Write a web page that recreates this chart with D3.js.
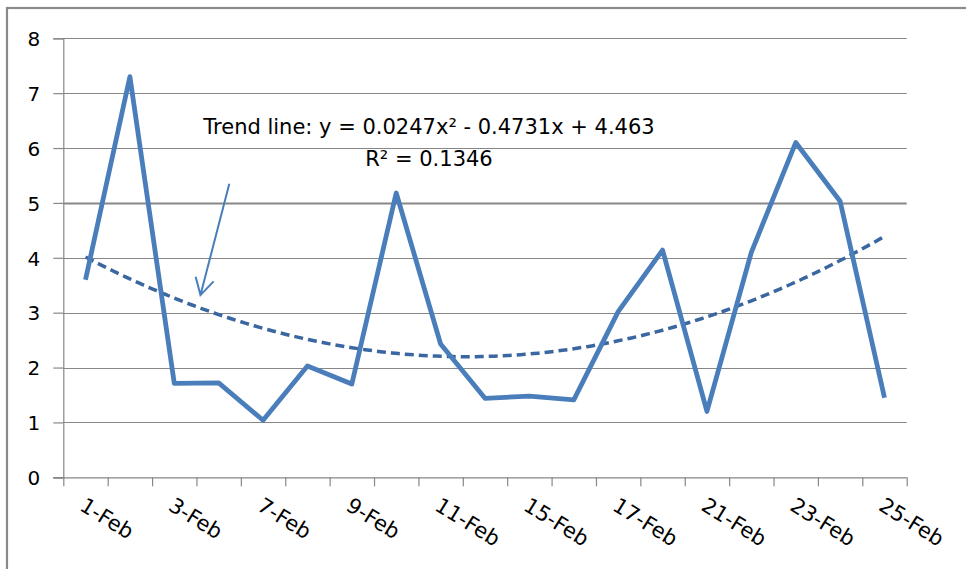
<!DOCTYPE html>
<html>
<head>
<meta charset="utf-8">
<script src="https://cdn.jsdelivr.net/npm/d3@7"></script>
<style>
  body { margin: 0; background: #fff; }
  text { font-family: "DejaVu Sans", Verdana, sans-serif; fill: #000; }
</style>
</head>
<body>
<div id="chart-area"></div>
<script>
// data
var dates = ["1-Feb", "2-Feb", "3-Feb", "4-Feb", "7-Feb", "8-Feb", "9-Feb", "10-Feb", "11-Feb", "14-Feb",
             "15-Feb", "16-Feb", "17-Feb", "18-Feb", "21-Feb", "22-Feb", "23-Feb", "24-Feb", "25-Feb"];
var values = [3.6, 7.3, 1.71, 1.72, 1.04, 2.03, 1.7, 5.18, 2.43, 1.44,
              1.48, 1.41, 3.02, 4.14, 1.2, 4.1, 6.1, 5.03, 1.45];
var yTicks = [0, 1, 2, 3, 4, 5, 6, 7, 8];
// trend line coefficients as printed on the chart
var trendA = 0.0247, trendB = -0.4731, trendC = 4.463;
var trendText = "Trend line: y = 0.0247x\u00B2 - 0.4731x + 4.463";
var r2Text = "R\u00B2 = 0.1346";

var W = 966, H = 569;
var margin = {left: 63.3, right: 59.3, top: 38.3, bottom: 91.7};

var svg = d3.select("#chart-area")
  .append("svg")
    .attr("width", W)
    .attr("height", H);

// outer frame (only top and left edges are in view)
svg.append("rect")
  .attr("x", 7).attr("y", 8)
  .attr("width", 1200).attr("height", 900)
  .attr("fill", "none")
  .attr("stroke", "#8a8a8a")
  .attr("stroke-width", 2.2);

// x as category index (1..n), band edges at half steps
var x = d3.scaleLinear()
  .domain([0.5, dates.length + 0.5])
  .range([margin.left, W - margin.right]);

var y = d3.scaleLinear()
  .domain([0, 8])
  .range([H - margin.bottom, margin.top]);

// horizontal gridlines
svg.append("g")
  .selectAll("line")
  .data(yTicks.slice(1))
  .enter().append("line")
    .attr("x1", margin.left)
    .attr("x2", W - margin.right)
    .attr("y1", function(d){ return Math.round(y(d)) + 0.5; })
    .attr("y2", function(d){ return Math.round(y(d)) + 0.5; })
    .attr("stroke", "#878787")
    .attr("stroke-width", function(d){ return d == 5 ? 2 : 1.2; });

// y axis
var yAxis = d3.axisLeft(y)
  .tickValues(yTicks)
  .tickSize(10)
  .tickPadding(13)
  .tickFormat(function(d){ return d; });
var gy = svg.append("g")
  .attr("transform", "translate(" + margin.left + ",0)")
  .call(yAxis);
gy.selectAll("line").attr("stroke", "#878787").attr("stroke-width", 1.2);
gy.select(".domain").attr("stroke", "#878787").attr("stroke-width", 1.2);
gy.selectAll("text").attr("font-size", "20px").attr("font-family", "'DejaVu Sans', sans-serif").attr("dy", "0.36em");

// x axis: ticks between categories
var edges = d3.range(0, dates.length + 1).map(function(i){ return i + 0.5; });
var xAxis = d3.axisBottom(x)
  .tickValues(edges)
  .tickSize(9)
  .tickFormat("");
var gx = svg.append("g")
  .attr("transform", "translate(0," + y(0) + ")")
  .call(xAxis);
gx.selectAll("line").attr("stroke", "#878787").attr("stroke-width", 1.2);
gx.select(".domain").attr("stroke", "#878787").attr("stroke-width", 1.2)
  .attr("d", "M" + (margin.left - 10) + ",0.5H" + (W - margin.right));

// category labels, every other one, rotated
svg.append("g")
  .selectAll("text")
  .data(dates)
  .enter().append("text")
    .filter(function(d, i){ return i % 2 == 0; })
    .attr("transform", function(d){
      var i = dates.indexOf(d);
      return "translate(" + (x(i + 1) + 1) + "," + (y(0) + 19) + ") rotate(32)";
    })
    .attr("dy", "0.72em")
    .attr("font-size", "21px")
    .text(function(d){ return d; });

// trend line (polynomial, order 2)
var trendPts = d3.range(1, dates.length + 0.001, 0.1).map(function(t){
  return [t, trendA * t * t + trendB * t + trendC];
});
svg.append("path")
  .datum(trendPts)
  .attr("fill", "none")
  .attr("stroke", "#3a679f")
  .attr("stroke-width", 3.5)
  .attr("stroke-dasharray", "9,5")
  .attr("d", d3.line()
    .x(function(d){ return x(d[0]); })
    .y(function(d){ return y(d[1]); }));

// data line
svg.append("path")
  .datum(values)
  .attr("fill", "none")
  .attr("stroke", "#4a7ebb")
  .attr("stroke-width", 4.8)
  .attr("stroke-linejoin", "round")
  .attr("d", d3.line()
    .x(function(d, i){ return x(i + 1); })
    .y(function(d){ return y(d); }));

// trend label
svg.append("text")
  .attr("x", 429).attr("y", 134)
  .attr("text-anchor", "middle")
  .attr("font-size", "21px")
  .text(trendText);
svg.append("text")
  .attr("x", 429).attr("y", 166)
  .attr("text-anchor", "middle")
  .attr("font-size", "21px")
  .text(r2Text);

// arrow pointing at the trend line
var arrowFrom = [4.24, 5.35], arrowTo = [3.59, 3.32];
var ax0 = x(arrowFrom[0]), ay0 = y(arrowFrom[1]), ax1 = x(arrowTo[0]), ay1 = y(arrowTo[1]);
var ang = Math.atan2(ay1 - ay0, ax1 - ax0);
var wing = 19, spread = 0.51;
svg.append("path")
  .attr("fill", "none")
  .attr("stroke", "#4a7ebb")
  .attr("stroke-width", 2)
  .attr("d", "M" + ax0 + "," + ay0 + "L" + ax1 + "," + ay1 +
    "M" + (ax1 - wing * Math.cos(ang - spread)) + "," + (ay1 - wing * Math.sin(ang - spread)) +
    "L" + ax1 + "," + ay1 +
    "L" + (ax1 - wing * Math.cos(ang + spread)) + "," + (ay1 - wing * Math.sin(ang + spread)));
</script>
</body>
</html>
